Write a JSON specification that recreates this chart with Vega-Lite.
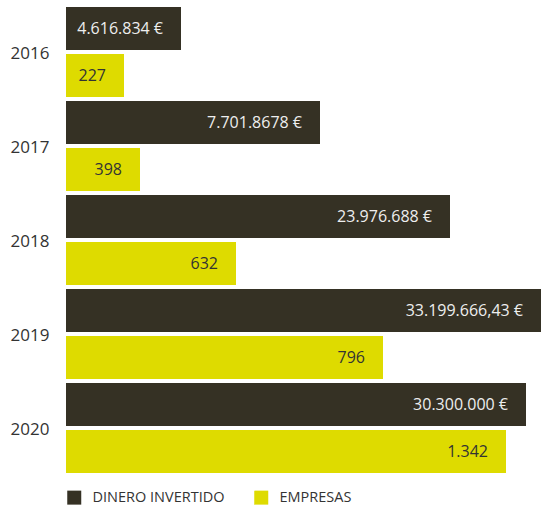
{
  "$schema": "https://vega.github.io/schema/vega-lite/v6.json",
  "width": 475,
  "height": 470,
  "autosize": "none",
  "padding": {"left": 66, "top": 5, "right": 0, "bottom": 31},
  "background": "#ffffff",
  "config": {"view": {"stroke": null}, "font": "Open Sans"},
  "data": {
    "values": [
      {"anio": "2016", "serie": "DINERO INVERTIDO", "largo": 115, "etiqueta": "4.616.834 €"},
      {"anio": "2016", "serie": "EMPRESAS", "largo": 58, "etiqueta": "227"},
      {"anio": "2017", "serie": "DINERO INVERTIDO", "largo": 254, "etiqueta": "7.701.8678 €"},
      {"anio": "2017", "serie": "EMPRESAS", "largo": 74, "etiqueta": "398"},
      {"anio": "2018", "serie": "DINERO INVERTIDO", "largo": 384, "etiqueta": "23.976.688 €"},
      {"anio": "2018", "serie": "EMPRESAS", "largo": 170, "etiqueta": "632"},
      {"anio": "2019", "serie": "DINERO INVERTIDO", "largo": 475, "etiqueta": "33.199.666,43 €"},
      {"anio": "2019", "serie": "EMPRESAS", "largo": 317, "etiqueta": "796"},
      {"anio": "2020", "serie": "DINERO INVERTIDO", "largo": 460, "etiqueta": "30.300.000 €"},
      {"anio": "2020", "serie": "EMPRESAS", "largo": 440, "etiqueta": "1.342"}
    ]
  },
  "encoding": {
    "y": {
      "field": "anio",
      "type": "nominal",
      "title": null,
      "scale": {"paddingInner": 0, "paddingOuter": 0},
      "axis": {
        "domain": false,
        "ticks": false,
        "labelPadding": 17,
        "labelFontSize": 17,
        "labelColor": "#333333",
        "labelFont": "Open Sans",
        "labelOffset": 2
      }
    },
    "yOffset": {
      "field": "serie",
      "type": "nominal",
      "scale": {"paddingInner": 0.085, "paddingOuter": 0.0425}
    },
    "x": {
      "field": "largo",
      "type": "quantitative",
      "scale": {"domain": [0, 475]},
      "axis": null
    }
  },
  "layer": [
    {
      "mark": {"type": "bar"},
      "encoding": {
        "color": {
          "field": "serie",
          "type": "nominal",
          "scale": {"domain": ["DINERO INVERTIDO", "EMPRESAS"], "range": ["#353124", "#dedb00"]},
          "legend": {
            "title": null,
            "orient": "none",
            "direction": "horizontal",
            "legendX": 1,
            "legendY": 485,
            "padding": 0,
            "symbolType": "square",
            "symbolSize": 196,
            "symbolStrokeWidth": 0,
            "symbolOpacity": 1,
            "labelFontSize": 14.5,
            "labelFont": "Open Sans",
            "labelColor": "#333333",
            "labelOffset": 11,
            "columnPadding": 29
          }
        }
      }
    },
    {
      "mark": {"type": "text", "align": "right", "baseline": "middle", "dx": -18, "fontSize": 16, "font": "Open Sans"},
      "encoding": {
        "text": {"field": "etiqueta"},
        "color": {
          "condition": {"test": "datum.serie === 'EMPRESAS'", "value": "#333333"},
          "value": "#eeeeee"
        }
      }
    }
  ]
}
